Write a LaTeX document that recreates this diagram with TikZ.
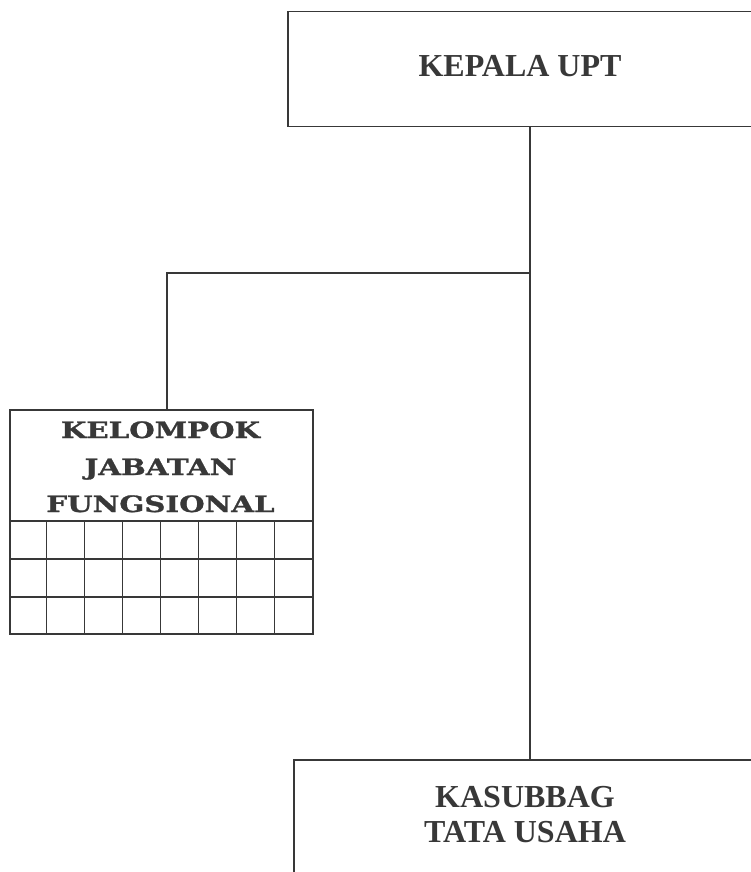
\documentclass[tikz,border=0pt]{standalone}
\usepackage{fontspec}
\setmainfont{Liberation Serif}
\newfontfamily\slabfont[FakeStretch=1.3,FakeBold=1.2,UprightFont=* Bold]{DejaVu Serif}
\definecolor{ink}{HTML}{383838}
\begin{document}
\begin{tikzpicture}[x=1pt,y=-1pt,
  orgbox/.style={draw=ink, line width=1.5pt, rectangle, inner sep=0pt, anchor=north west},
  conn/.style={draw=ink, line width=1.5pt},
  gridline/.style={draw=ink, line width=1.2pt},
  timestext/.style={text=ink, font=\fontsize{32}{35}\selectfont\bfseries, align=center, inner sep=0pt},
  slabtext/.style={text=ink, font=\slabfont\fontsize{22.5}{37}\selectfont, align=center, inner sep=0pt}]
\useasboundingbox (0,0) rectangle (751,872);
\clip (0,0) rectangle (751,872);
\fill[white] (0,0) rectangle (751,872);
% boxes
\node[orgbox, minimum width=503pt, minimum height=115pt] (kepala) at (287,11) {};
\node[timestext, anchor=base] (kepalatxt) at (520,77) {KEPALA UPT};
\node[orgbox, minimum width=303pt, minimum height=224pt] (kjf) at (9,409) {};
\node[slabtext, anchor=base] (kjftxt) at (160.5,512) {KELOMPOK\\JABATAN\\FUNGSIONAL};
\node[orgbox, minimum width=500pt, minimum height=150pt] (kasub) at (293,759) {};
\node[timestext, anchor=base] (kasubtxt) at (525,842) {KASUBBAG\\TATA USAHA};
% grid
\foreach \gx in {46.5,84.5,122.5,160.5,198.5,236.5,274.5} {
  \draw[gridline] (\gx,521) -- (\gx,633);
}
\foreach \gy in {521,559,597} {
  \draw[gridline] (9,\gy) -- (312,\gy);
}
% connectors
\coordinate (j) at (530,273);
\coordinate (k) at (167,273);
\draw[conn] (kepala.south -| j) -- (kasub.north -| j);
\draw[conn] (j) -- (k) -- (k |- kjf.north);
\end{tikzpicture}
\end{document}
